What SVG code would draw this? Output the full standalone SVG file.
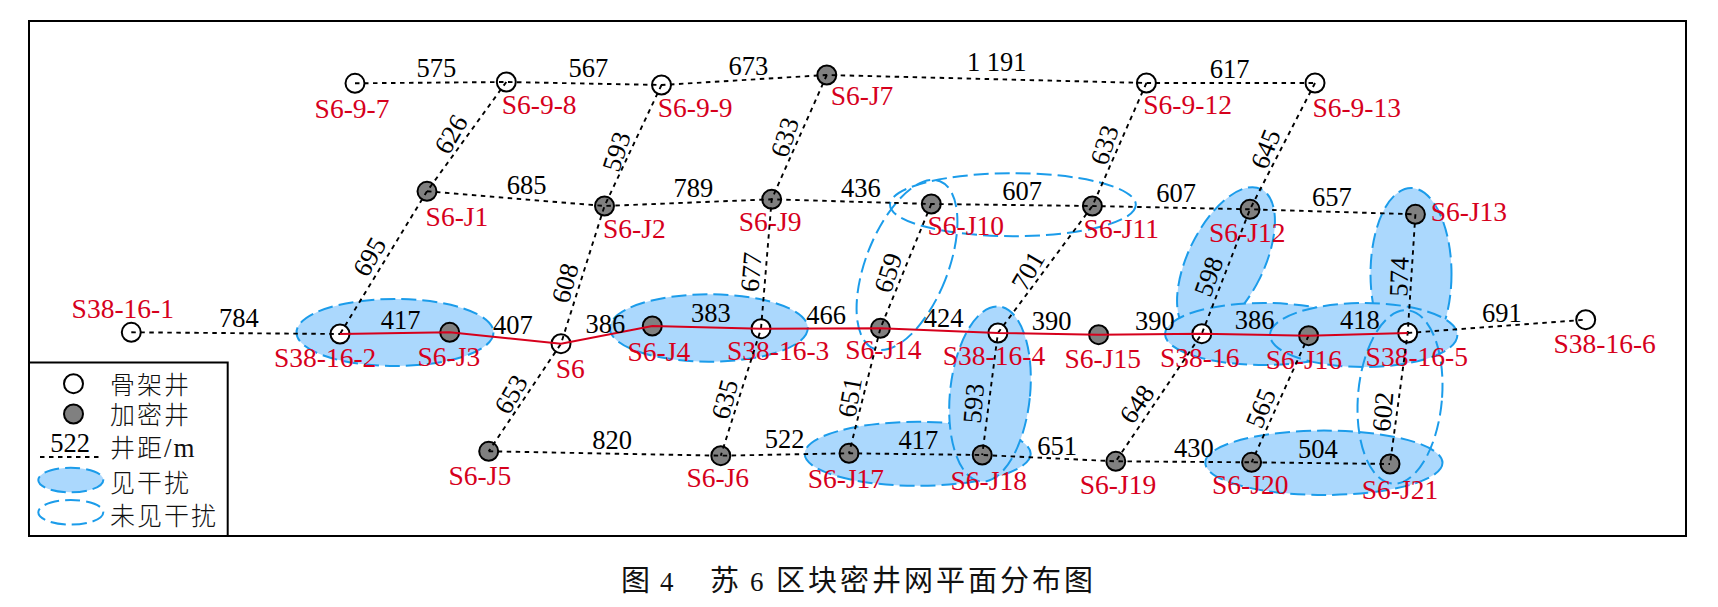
<svg xmlns="http://www.w3.org/2000/svg" width="1718" height="607" viewBox="0 0 1718 607">
<style>
text{font-family:"Liberation Serif","Noto Sans CJK SC",serif}
.lb{font-size:27.5px;fill:#d6001c}
.n{font-size:26.5px;fill:#000;text-anchor:middle}
.cn{font-size:25px;fill:#111;letter-spacing:2px;font-family:"Noto Sans CJK SC",sans-serif;font-weight:300}
.cap{font-size:29px;fill:#111;font-family:"Noto Sans CJK SC",sans-serif}
.sk{fill:#fff;stroke:#000;stroke-width:2}
.de{fill:#808080;stroke:#000;stroke-width:2}
.z{fill:#abd8fd;stroke:#1b9cea;stroke-width:2;stroke-dasharray:15 6}
.u{fill:none;stroke:#1b9cea;stroke-width:2;stroke-dasharray:15 6}
.d{fill:none;stroke:#000;stroke-width:1.9;stroke-dasharray:4.5 4.5}
.r{fill:none;stroke:#d6001c;stroke-width:2}
</style>
<rect width="1718" height="607" fill="#fff"/>
<rect x="29" y="21" width="1657" height="515" fill="#fff" stroke="#000" stroke-width="2"/>
<g id="zones">
<ellipse class="z" cx="395" cy="332.5" rx="98.5" ry="33.5"/>
<ellipse class="z" cx="708.8" cy="328" rx="99" ry="33.7"/>
<ellipse class="z" cx="917.7" cy="453.8" rx="113" ry="32"/>
<ellipse class="z" cx="990" cy="394" rx="40" ry="88" transform="rotate(6 990 394)"/>
<ellipse class="z" cx="1226" cy="261" rx="38" ry="80" transform="rotate(26 1226 261)"/>
<ellipse class="z" cx="1411" cy="274" rx="40.5" ry="86"/>
<ellipse class="z" cx="1264" cy="334" rx="99" ry="31"/>
<ellipse class="z" cx="1363.7" cy="335" rx="93.7" ry="32"/>
<ellipse class="z" cx="1323.9" cy="462.8" rx="118.6" ry="32.2"/>
<ellipse class="u" cx="1400" cy="397" rx="42" ry="87" transform="rotate(5 1400 397)"/>
<ellipse class="u" cx="907" cy="265" rx="41" ry="90" transform="rotate(21.5 907 265)"/>
<ellipse class="u" cx="1012.9" cy="204.7" rx="122.9" ry="31.5"/>
</g>
<g id="S6-9-7"><circle class="sk" cx="355" cy="83.3" r="9.5"/><text class="lb" x="314.6" y="117.7">S6-9-7</text></g>
<g id="S6-9-8"><circle class="sk" cx="506.3" cy="82" r="9.5"/><text class="lb" x="501.7" y="114.3">S6-9-8</text></g>
<g id="S6-9-9"><circle class="sk" cx="661.5" cy="85" r="9.5"/><text class="lb" x="657.7" y="117.3">S6-9-9</text></g>
<g id="S6-J7"><circle class="de" cx="826.8" cy="75" r="9.5"/><text class="lb" x="830.7" y="105.3">S6-J7</text></g>
<g id="S6-9-12"><circle class="sk" cx="1146.4" cy="83" r="9.5"/><text class="lb" x="1143.3" y="114.3">S6-9-12</text></g>
<g id="S6-9-13"><circle class="sk" cx="1315" cy="83" r="9.5"/><text class="lb" x="1312.4" y="116.7">S6-9-13</text></g>
<g id="S6-J1"><circle class="de" cx="427" cy="191.3" r="9.5"/><text class="lb" x="425.6" y="225.7">S6-J1</text></g>
<g id="S6-J2"><circle class="de" cx="604.5" cy="206" r="9.5"/><text class="lb" x="603" y="237.7">S6-J2</text></g>
<g id="S6-J9"><circle class="de" cx="771.7" cy="199.3" r="9.5"/><text class="lb" x="738.8" y="231.3">S6-J9</text></g>
<g id="S6-J10"><circle class="de" cx="931.3" cy="204" r="9.5"/><text class="lb" x="927.5" y="235">S6-J10</text></g>
<g id="S6-J11"><circle class="de" cx="1092.4" cy="206" r="9.5"/><text class="lb" x="1083.6" y="238.3">S6-J11</text></g>
<g id="S6-J12"><circle class="de" cx="1250" cy="209.3" r="9.5"/><text class="lb" x="1209" y="241.7">S6-J12</text></g>
<g id="S6-J13"><circle class="de" cx="1415.4" cy="214.3" r="9.5"/><text class="lb" x="1430.7" y="221.3">S6-J13</text></g>
<g id="S38-16-1"><circle class="sk" cx="131.3" cy="332.3" r="9.5"/><text class="lb" x="71.6" y="318">S38-16-1</text></g>
<g id="S38-16-2"><circle class="sk" cx="340" cy="334" r="9.5"/><text class="lb" x="274" y="367.3">S38-16-2</text></g>
<g id="S6-J3"><circle class="de" cx="449.7" cy="332.3" r="9.5"/><text class="lb" x="417.5" y="366.3">S6-J3</text></g>
<g id="S6"><circle class="sk" cx="561" cy="343.7" r="9.5"/><text class="lb" x="555.7" y="377.7">S6</text></g>
<g id="S6-J4"><circle class="de" cx="652.3" cy="326" r="9.5"/><text class="lb" x="627.5" y="361">S6-J4</text></g>
<g id="S38-16-3"><circle class="sk" cx="761" cy="328.7" r="9.5"/><text class="lb" x="727" y="359.7">S38-16-3</text></g>
<g id="S6-J14"><circle class="de" cx="880.4" cy="328.3" r="9.5"/><text class="lb" x="845.2" y="358.7">S6-J14</text></g>
<g id="S38-16-4"><circle class="sk" cx="997.9" cy="333" r="9.5"/><text class="lb" x="942.8" y="364.7">S38-16-4</text></g>
<g id="S6-J15"><circle class="de" cx="1098.6" cy="334.7" r="9.5"/><text class="lb" x="1064.5" y="368.3">S6-J15</text></g>
<g id="S38-16"><circle class="sk" cx="1201.8" cy="333.7" r="9.5"/><text class="lb" x="1160" y="367.3">S38-16</text></g>
<g id="S6-J16"><circle class="de" cx="1308.6" cy="335.7" r="9.5"/><text class="lb" x="1265.7" y="368.7">S6-J16</text></g>
<g id="S38-16-5"><circle class="sk" cx="1407.7" cy="333" r="9.5"/><text class="lb" x="1365.6" y="366.3">S38-16-5</text></g>
<g id="S38-16-6"><circle class="sk" cx="1585.7" cy="319.7" r="9.5"/><text class="lb" x="1553.5" y="353.3">S38-16-6</text></g>
<g id="S6-J5"><circle class="de" cx="488.7" cy="451.3" r="9.5"/><text class="lb" x="448.5" y="485">S6-J5</text></g>
<g id="S6-J6"><circle class="de" cx="720.8" cy="455.7" r="9.5"/><text class="lb" x="686.4" y="487.3">S6-J6</text></g>
<g id="S6-J17"><circle class="de" cx="849" cy="453.3" r="9.5"/><text class="lb" x="807.7" y="488.3">S6-J17</text></g>
<g id="S6-J18"><circle class="de" cx="982.2" cy="455" r="9.5"/><text class="lb" x="950.5" y="489.7">S6-J18</text></g>
<g id="S6-J19"><circle class="de" cx="1115.8" cy="461.3" r="9.5"/><text class="lb" x="1079.8" y="493.7">S6-J19</text></g>
<g id="S6-J20"><circle class="de" cx="1251.6" cy="462.3" r="9.5"/><text class="lb" x="1212" y="494.3">S6-J20</text></g>
<g id="S6-J21"><circle class="de" cx="1390" cy="464" r="9.5"/><text class="lb" x="1361.8" y="498.7">S6-J21</text></g>
<g id="connectors">
<polyline class="d" points="355,83.3 506.3,82 661.5,85 826.8,75 1146.4,83 1315,83"/>
<polyline class="d" points="427,191.3 604.5,206 771.7,199.3 931.3,204 1092.4,206 1250,209.3 1415.4,214.3"/>
<polyline class="d" points="131.3,332.3 340,334"/>
<polyline class="d" points="1407.7,333 1585.7,319.7"/>
<polyline class="d" points="488.7,451.3 720.8,455.7 849,453.3 982.2,455 1115.8,461.3 1251.6,462.3 1390,464"/>
<polyline class="d" points="506.3,82 427,191.3 340,334"/>
<polyline class="d" points="661.5,85 604.5,206 561,343.7 488.7,451.3"/>
<polyline class="d" points="826.8,75 771.7,199.3 761,328.7 720.8,455.7"/>
<polyline class="d" points="931.3,204 880.4,328.3 849,453.3"/>
<polyline class="d" points="1146.4,83 1092.4,206 997.9,333 982.2,455"/>
<polyline class="d" points="1315,83 1250,209.3 1201.8,333.7 1115.8,461.3"/>
<polyline class="d" points="1308.6,335.7 1251.6,462.3"/>
<polyline class="d" points="1415.4,214.3 1407.7,333 1390,464"/>
<polyline class="r" points="340,334 449.7,332.3 561,343.7 652.3,326 761,328.7 880.4,328.3 997.9,333 1098.6,334.7 1201.8,333.7 1308.6,335.7 1407.7,333"/>
</g>
<g id="spacings">
<text class="n" x="436.3" y="77.3">575</text>
<text class="n" x="588.3" y="76.7">567</text>
<text class="n" x="748.4" y="74.7">673</text>
<text class="n" x="996.8" y="71">1 191</text>
<text class="n" x="1229.7" y="77.7">617</text>
<text class="n" x="526.6" y="194.3">685</text>
<text class="n" x="693.3" y="196.7">789</text>
<text class="n" x="860.9" y="196.7">436</text>
<text class="n" x="1022" y="200">607</text>
<text class="n" x="1176.2" y="202.3">607</text>
<text class="n" x="1331.9" y="205.7">657</text>
<text class="n" x="238.8" y="327.3">784</text>
<text class="n" x="400.7" y="328.7">417</text>
<text class="n" x="512.8" y="334">407</text>
<text class="n" x="605.3" y="333.3">386</text>
<text class="n" x="710.9" y="322.3">383</text>
<text class="n" x="826" y="324.3">466</text>
<text class="n" x="943.6" y="327.3">424</text>
<text class="n" x="1051.5" y="330.3">390</text>
<text class="n" x="1154.8" y="330">390</text>
<text class="n" x="1254.6" y="329">386</text>
<text class="n" x="1359.9" y="329.3">418</text>
<text class="n" x="1501.9" y="321.7">691</text>
<text class="n" x="612.1" y="448.7">820</text>
<text class="n" x="784.7" y="448.3">522</text>
<text class="n" x="918.3" y="449">417</text>
<text class="n" x="1057.2" y="454.7">651</text>
<text class="n" x="1193.8" y="457.3">430</text>
<text class="n" x="1317.8" y="458">504</text>
<text class="n" transform="translate(450.8 134.3) rotate(-60)" y="9">626</text>
<text class="n" transform="translate(369.3 256.7) rotate(-60)" y="9">695</text>
<text class="n" transform="translate(565 283) rotate(-75)" y="9">608</text>
<text class="n" transform="translate(616.4 151.5) rotate(-72)" y="9">593</text>
<text class="n" transform="translate(784.7 137.3) rotate(-72)" y="9">633</text>
<text class="n" transform="translate(1104.3 145) rotate(-72)" y="9">633</text>
<text class="n" transform="translate(751 272) rotate(-85)" y="9">677</text>
<text class="n" transform="translate(888 272.7) rotate(-72)" y="9">659</text>
<text class="n" transform="translate(1027.8 270.7) rotate(-60)" y="9">701</text>
<text class="n" transform="translate(1265.5 149) rotate(-68)" y="9">645</text>
<text class="n" transform="translate(1208.5 276.5) rotate(-70)" y="9">598</text>
<text class="n" transform="translate(1399 276.7) rotate(-88)" y="9">574</text>
<text class="n" transform="translate(510.9 394.3) rotate(-60)" y="9">653</text>
<text class="n" transform="translate(724.7 399.3) rotate(-75)" y="9">635</text>
<text class="n" transform="translate(849.8 397.3) rotate(-80)" y="9">651</text>
<text class="n" transform="translate(973.4 403.3) rotate(-85)" y="9">593</text>
<text class="n" transform="translate(1136.8 404) rotate(-55)" y="9">648</text>
<text class="n" transform="translate(1260.7 408.3) rotate(-68)" y="9">565</text>
<text class="n" transform="translate(1382.8 411.7) rotate(-85)" y="9">602</text>
</g>
<g id="legend">
<rect x="29" y="362.5" width="198.7" height="173.5" fill="#fff" stroke="#000" stroke-width="2"/>
<circle class="sk" cx="73.5" cy="383.7" r="9.5"/>
<circle class="de" cx="73.5" cy="414" r="9.5"/>
<text class="n" x="70" y="451.7">522</text>
<line class="d" x1="40" y1="457" x2="102.6" y2="457"/>
<ellipse class="z" cx="70.8" cy="480" rx="32.5" ry="12.3"/>
<ellipse class="u" cx="70.8" cy="512.3" rx="32.5" ry="12.3"/>
<text class="cn" x="110" y="394.3">骨架井</text>
<text class="cn" x="110" y="424">加密井</text>
<text class="cn" x="110" y="457">井距<tspan font-family="Liberation Serif" font-size="27">/m</tspan></text>
<text class="cn" x="110" y="491.7">见干扰</text>
<text class="cn" x="110" y="525">未见干扰</text>
</g>
<g id="caption" font-size="27" fill="#111">
<text y="591"><tspan class="cap" x="621">图</tspan> <tspan x="660">4</tspan> <tspan class="cap" x="710">苏</tspan> <tspan x="750">6</tspan> <tspan class="cap" x="776" style="letter-spacing:3px">区块密井网平面分布图</tspan></text>
</g>
</svg>
